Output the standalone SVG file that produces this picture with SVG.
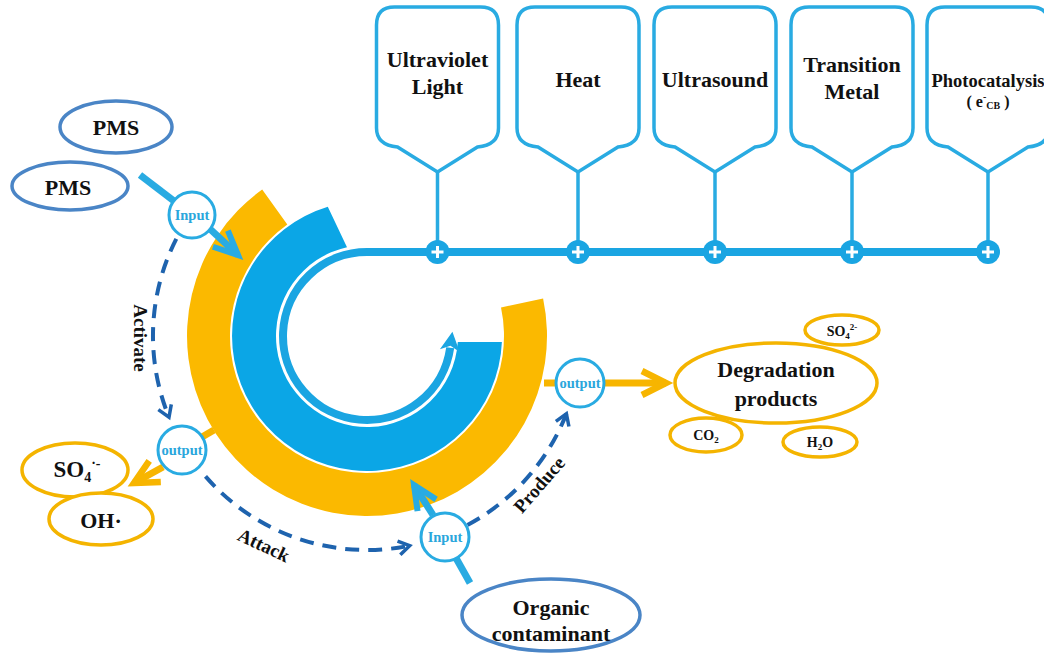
<svg xmlns="http://www.w3.org/2000/svg" width="1044" height="659" viewBox="0 0 1044 659">
<style>
.t{font-family:"Liberation Serif","Times New Roman",serif;font-weight:bold;fill:#111}
.io{font-family:"Liberation Serif","Times New Roman",serif;font-weight:bold;fill:#2aa6dc;font-size:14.5px}
.co{fill:#fff;stroke:#29abe2;stroke-width:3.5}
.cb{fill:#fff;stroke:#29abe2;stroke-width:3}
.pe{fill:#fff;stroke:#4a85c6;stroke-width:3.5}
.ye{fill:#fff;stroke:#f4b400;stroke-width:3.5}
.dash{fill:none;stroke:#1e63ae;stroke-width:4;stroke-dasharray:14 9}
.lb{fill:none;stroke:#29abe2;stroke-width:7}
.yl{fill:none;stroke:#f7b500;stroke-width:7}
.vl{fill:none;stroke:#29abe2;stroke-width:3.5}
.plus{fill:#1aa5e2}
.pl{stroke:#fff;stroke-width:3}
</style>
<defs>
<path id="callout" d="M-43,7 L43,7 Q61,7 61,25 L61,128 Q61,145 40,147 L0,172 L-40,147 Q-61,145 -61,128 L-61,25 Q-61,7 -43,7 Z"/>
<marker id="mDash" viewBox="-14 -9 17 18" refX="0" refY="0" markerWidth="17" markerHeight="18" markerUnits="userSpaceOnUse" orient="auto" overflow="visible">
<path d="M-11,-7 L0,0 L-11,7" fill="none" stroke="#1e63ae" stroke-width="3.5"/>
</marker>
<marker id="mBlue" viewBox="-28 -14 32 28" refX="0" refY="0" markerWidth="32" markerHeight="28" markerUnits="userSpaceOnUse" orient="auto" overflow="visible">
<path d="M-24,-11 L0,0 L-24,11" fill="none" stroke="#29abe2" stroke-width="6"/>
</marker>
<marker id="mYel" viewBox="-28 -15 32 30" refX="0" refY="0" markerWidth="32" markerHeight="30" markerUnits="userSpaceOnUse" orient="auto" overflow="visible">
<path d="M-24,-12 L0,0 L-24,12" fill="none" stroke="#f7b500" stroke-width="6.5"/>
</marker>
<marker id="mRing" viewBox="-5 -11 23 22" refX="0" refY="0" markerWidth="23" markerHeight="22" markerUnits="userSpaceOnUse" orient="auto" overflow="visible">
<path d="M-3,-10 L16,0 L-3,10 L2,0 Z" fill="#1aa5e2"/>
</marker>
</defs>
<rect width="1044" height="659" fill="#fff"/>

<g id="ring">
<path d="M543.1,298.6 A180,180 0 1 1 262.2,189.6 L287.3,224.6 A137,137 0 1 0 501.0,307.5 Z" fill="#fbb900"/>
<path d="M501.9,342 A135,135 0 1 1 327.8,206.8 L347.0,247.2 A91,91 0 1 0 457.8,342 Z" fill="#0ba6e6"/>
<path d="M995,252 L367,252 A84,84 0 1 0 450.2,347.7" fill="none" stroke="#1aa5e2" stroke-width="8" marker-end="url(#mRing)"/>
</g>

<g id="connectors">
<line class="vl" x1="437.5" y1="172" x2="437.5" y2="245"/>
<line class="vl" x1="578" y1="172" x2="578" y2="245"/>
<line class="vl" x1="715" y1="172" x2="715" y2="245"/>
<line class="vl" x1="852" y1="172" x2="852" y2="245"/>
<line class="vl" x1="988" y1="172" x2="988" y2="245"/>
<g id="plus-nodes">
<circle class="plus" cx="437.5" cy="252" r="12"/><path class="pl" d="M431.5,252 H443.5 M437.5,246 V258"/>
<circle class="plus" cx="578" cy="252" r="12"/><path class="pl" d="M572,252 H584 M578,246 V258"/>
<circle class="plus" cx="715" cy="252" r="12"/><path class="pl" d="M709,252 H721 M715,246 V258"/>
<circle class="plus" cx="852" cy="252" r="12"/><path class="pl" d="M846,252 H858 M852,246 V258"/>
<circle class="plus" cx="988" cy="252" r="12"/><path class="pl" d="M982,252 H994 M988,246 V258"/>
</g>
<line class="lb" x1="140" y1="175" x2="174" y2="201"/>
<line class="lb" x1="210" y1="229" x2="238" y2="255" marker-end="url(#mBlue)"/>
<line class="lb" x1="470" y1="583" x2="456" y2="558"/>
<line class="lb" x1="433" y1="515" x2="414" y2="485" marker-end="url(#mBlue)"/>
<line class="yl" x1="202" y1="437" x2="214" y2="430"/>
<line class="yl" x1="163" y1="467" x2="134" y2="483" marker-end="url(#mYel)"/>
<line class="yl" x1="544" y1="383" x2="557" y2="383"/>
<line class="yl" x1="605" y1="383" x2="666" y2="383" marker-end="url(#mYel)"/>
<path class="dash" d="M176.3,238.8 A214,214 0 0 0 169.0,417.2" marker-end="url(#mDash)"/>
<path class="dash" d="M205.5,476.4 A214,214 0 0 0 409.7,545.7" marker-end="url(#mDash)"/>
<path class="dash" d="M467.5,524.9 A214,214 0 0 0 566.4,413.7" marker-end="url(#mDash)"/>
<text class="t" font-size="19" text-anchor="middle" transform="translate(134,338) rotate(90)">Activate</text>
<text class="t" font-size="19" text-anchor="middle" transform="translate(261,551) rotate(25)">Attack</text>
<text class="t" font-size="19" text-anchor="middle" transform="translate(544,489) rotate(-49)">Produce</text>
</g>

<g id="uv"><use href="#callout" x="437.5" class="co"/>
<text class="t" font-size="22" text-anchor="middle" x="437.5" y="67">Ultraviolet</text>
<text class="t" font-size="22" text-anchor="middle" x="437.5" y="94">Light</text></g>
<g id="heat"><use href="#callout" x="578" class="co"/>
<text class="t" font-size="22" text-anchor="middle" x="578" y="87">Heat</text></g>
<g id="ultrasound"><use href="#callout" x="715" class="co"/>
<text class="t" font-size="22" text-anchor="middle" x="715" y="87">Ultrasound</text></g>
<g id="transition"><use href="#callout" x="852" class="co"/>
<text class="t" font-size="22" text-anchor="middle" x="852" y="72">Transition</text>
<text class="t" font-size="22" text-anchor="middle" x="852" y="99">Metal</text></g>
<g id="photocatalysis"><use href="#callout" x="988" class="co"/>
<text class="t" font-size="18.5" text-anchor="middle" x="988" y="87">Photocatalysis</text>
<text class="t" font-size="16" text-anchor="middle" x="988" y="107">( e<tspan font-size="10" dy="-7">-</tspan><tspan font-size="10" dy="9">CB</tspan><tspan dy="-2"> )</tspan></text></g>

<g id="pms1"><ellipse class="pe" cx="116" cy="127" rx="56" ry="26"/>
<text class="t" font-size="22" text-anchor="middle" x="116" y="135">PMS</text></g>
<g id="pms2"><ellipse class="pe" cx="70" cy="186" rx="58" ry="24"/>
<text class="t" font-size="22" text-anchor="middle" x="68" y="195">PMS</text></g>

<g id="input1"><circle class="cb" cx="192" cy="215" r="23"/>
<text class="io" text-anchor="middle" x="192" y="220">Input</text></g>
<g id="output1"><circle class="cb" cx="182" cy="450" r="24"/>
<text class="io" text-anchor="middle" x="182" y="455">output</text></g>
<g id="input2"><circle class="cb" cx="445" cy="537" r="24"/>
<text class="io" text-anchor="middle" x="445" y="542">Input</text></g>
<g id="output2"><circle class="cb" cx="580" cy="383" r="24"/>
<text class="io" text-anchor="middle" x="580" y="388">output</text></g>

<g id="so4rad"><ellipse class="ye" cx="75" cy="470" rx="53" ry="27"/>
<text class="t" font-size="23" text-anchor="middle" x="77" y="477">SO<tspan font-size="14" dy="5">4</tspan><tspan font-size="14" dy="-14">·-</tspan></text></g>
<g id="ohrad"><ellipse class="ye" cx="101" cy="519" rx="52" ry="26"/>
<text class="t" font-size="22" text-anchor="middle" x="101" y="528">OH·</text></g>

<g id="degradation"><ellipse class="ye" cx="776" cy="383" rx="101" ry="40"/>
<text class="t" font-size="22" text-anchor="middle" x="776" y="377">Degradation</text>
<text class="t" font-size="22" text-anchor="middle" x="776" y="406">products</text></g>
<g id="so4"><ellipse class="ye" cx="842" cy="330" rx="37" ry="15"/>
<text class="t" font-size="14" text-anchor="middle" x="842" y="336">SO<tspan font-size="9" dy="3">4</tspan><tspan font-size="9" dy="-9">2-</tspan></text></g>
<g id="co2"><ellipse class="ye" cx="706" cy="435" rx="36" ry="17"/>
<text class="t" font-size="14" text-anchor="middle" x="706" y="440">CO<tspan font-size="9" dy="3">2</tspan></text></g>
<g id="h2o"><ellipse class="ye" cx="820" cy="442" rx="37" ry="15"/>
<text class="t" font-size="14" text-anchor="middle" x="820" y="447">H<tspan font-size="9" dy="3">2</tspan><tspan dy="-3">O</tspan></text></g>

<g id="organic"><ellipse class="pe" cx="551" cy="615" rx="89" ry="36"/>
<text class="t" font-size="22" text-anchor="middle" x="551" y="615">Organic</text>
<text class="t" font-size="22" text-anchor="middle" x="551" y="641">contaminant</text></g>
</svg>
